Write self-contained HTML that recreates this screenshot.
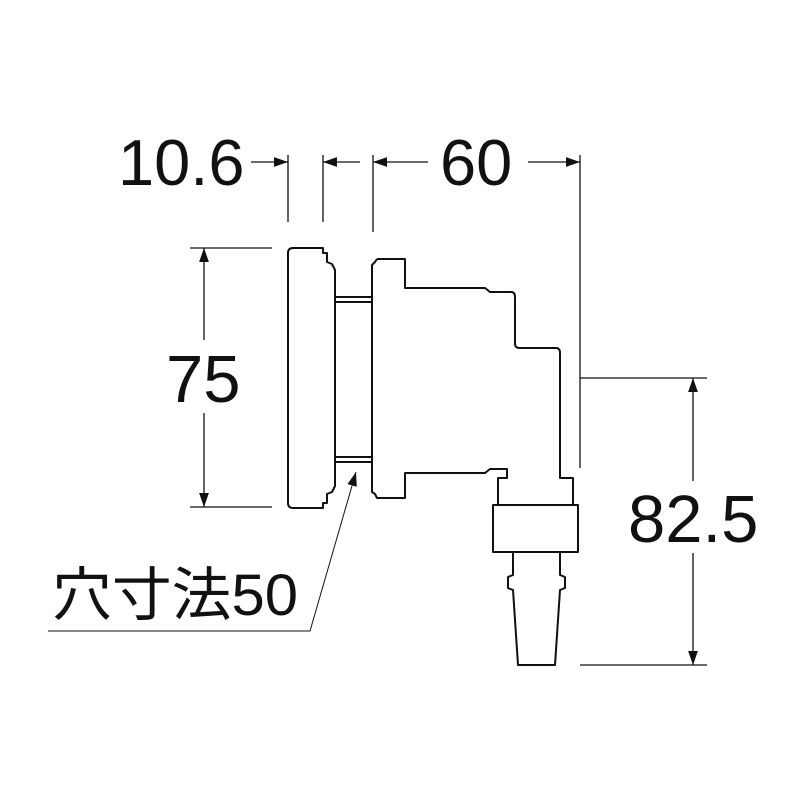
<!DOCTYPE html>
<html><head><meta charset="utf-8"><style>
html,body{margin:0;padding:0;background:#fff;}
svg{display:block}
text{font-family:"Liberation Sans","Noto Sans CJK JP",sans-serif;fill:#111}
</style></head><body>
<svg width="800" height="800" viewBox="0 0 800 800" xmlns="http://www.w3.org/2000/svg">
<defs>
<marker id="a" viewBox="0 0 10 10" refX="10" refY="5" markerWidth="14" markerHeight="14" markerUnits="userSpaceOnUse" orient="auto-start-reverse"><path d="M0,1.5 L10,5 L0,8.5 Z" fill="#111"/></marker>
</defs>
<g stroke="#111" stroke-width="1.3" fill="none">
<line x1="288" y1="155" x2="288" y2="222"/>
<line x1="323" y1="155" x2="323" y2="222"/>
<line x1="373" y1="155" x2="373" y2="232"/>
<line x1="580" y1="155" x2="580" y2="468"/>
<line x1="251" y1="162" x2="288" y2="162" marker-end="url(#a)"/>
<line x1="360" y1="162" x2="323" y2="162" marker-end="url(#a)"/>
<line x1="428" y1="162" x2="373" y2="162" marker-end="url(#a)"/>
<line x1="528" y1="162" x2="580" y2="162" marker-end="url(#a)"/>
<line x1="190" y1="248" x2="272" y2="248"/>
<line x1="190" y1="507" x2="272" y2="507"/>
<line x1="204" y1="340" x2="204" y2="248" marker-end="url(#a)"/>
<line x1="204" y1="413" x2="204" y2="507" marker-end="url(#a)"/>
<line x1="580" y1="378" x2="707" y2="378"/>
<line x1="580" y1="665" x2="707" y2="665"/>
<line x1="693" y1="481" x2="693" y2="378" marker-end="url(#a)"/>
<line x1="693" y1="553" x2="693" y2="665" marker-end="url(#a)"/>
<polyline points="48,631 310,631 356,472" stroke-width="1" marker-end="url(#a)"/>
</g>
<g stroke="#111" stroke-width="2" fill="none" stroke-linejoin="round">
<path d="M293,248 L323,248 L323,253 L327,253 L327,262 L332,264 L335,270 L335,486 L332,492 L327,494 L327,503 L323,503 L323,508 L293,508 Q288,508 288,503 L288,253 Q288,248 293,248 Z"/>
<line x1="335" y1="297" x2="372" y2="297"/>
<line x1="335" y1="302" x2="372" y2="302"/>
<line x1="335" y1="457" x2="372" y2="457"/>
<line x1="335" y1="462" x2="372" y2="462"/>
<path d="M377,259 L405,259 L405,288 L485,288 L490,292 L511,292 Q515,292 515,297 L515,344 Q515,348 520,348 L556,348 Q560,348 560,353 L560,478 L573,478 L573,505"/>
<path d="M498,505 L498,478 L507,478 L507,469 L490,469 L485,473 L405,473 L405,498 L377,498 L375,494 L372,492 L372,265 L375,262 L377,259"/>
<rect x="493" y="505" width="85" height="47"/>
<path d="M513,552 L513,575 L508,577 L508,588 L513,590 L518,665 L555,665 L560,590 L565,588 L565,577 L560,575 L560,552"/>
</g>
<text x="118" y="185" font-size="65">10.6</text>
<text x="440" y="185" font-size="65">60</text>
<text x="166" y="402" font-size="67">75</text>
<text x="628" y="542" font-size="67">82.5</text>
<text x="52" y="615" font-size="58" textLength="246" lengthAdjust="spacingAndGlyphs">穴寸法50</text>
</svg>
</body></html>
